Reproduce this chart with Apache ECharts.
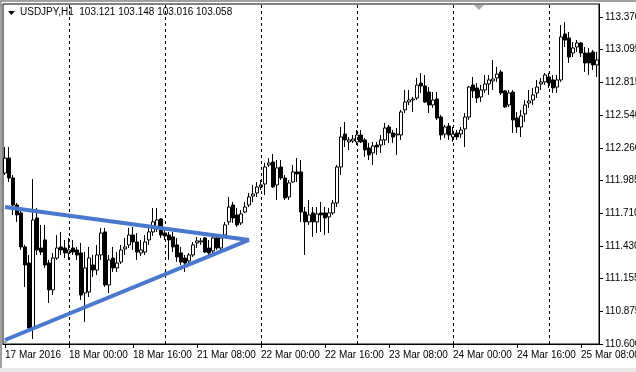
<!DOCTYPE html>
<html><head><meta charset="utf-8">
<script src="https://cdn.jsdelivr.net/npm/echarts@6/dist/echarts.min.js"></script>
<style>html,body{margin:0;padding:0;background:#fff}#c{width:636px;height:372px}</style>
</head><body><div id="c"></div>
<script>
const opens=[112.048,112.175,112.006,111.777,111.710,111.422,111.286,110.736,111.667,111.413,
111.481,111.286,111.058,111.328,111.422,111.413,111.371,111.413,111.396,111.371,
111.032,111.041,111.269,111.227,111.354,111.549,111.100,111.328,111.244,111.295,
111.405,111.439,111.523,111.464,111.371,111.379,111.481,111.549,111.591,111.659,
111.540,111.523,111.507,111.439,111.371,111.328,111.303,111.354,111.456,111.464,
111.498,111.413,111.388,111.498,111.413,111.523,111.634,111.777,111.693,111.625,
111.718,111.777,111.853,111.879,111.930,111.955,112.116,112.141,111.947,112.099,
112.006,111.845,111.972,112.057,112.057,111.718,111.634,111.710,111.634,111.710,
111.710,111.676,111.710,111.794,112.099,112.378,112.311,112.319,112.311,112.370,
112.328,112.260,112.218,112.285,112.285,112.328,112.438,112.387,112.370,112.370,
112.582,112.649,112.666,112.683,112.810,112.785,112.734,112.624,112.675,112.522,
112.378,112.446,112.353,112.387,112.378,112.421,112.522,112.793,112.768,112.692,
112.751,112.802,112.827,112.853,112.903,112.743,112.624,112.734,112.514,112.438,
112.548,112.641,112.666,112.726,112.802,112.819,112.861,112.836,112.776,112.836,
113.225,113.191,113.064,113.115,113.149,113.064,113.064,113.073,112.963];
const closes=[112.175,112.006,111.777,111.693,111.422,111.269,110.736,111.650,111.396,111.379,
111.269,111.058,111.328,111.413,111.396,111.371,111.396,111.379,111.354,111.015,
111.244,111.328,111.227,111.354,111.540,111.100,111.312,111.244,111.286,111.396,
111.422,111.523,111.464,111.379,111.396,111.464,111.549,111.634,111.650,111.523,
111.515,111.481,111.422,111.337,111.295,111.286,111.354,111.439,111.473,111.473,
111.379,111.371,111.498,111.413,111.498,111.608,111.760,111.667,111.608,111.701,
111.760,111.845,111.870,111.930,111.947,112.099,112.133,111.930,112.091,112.006,
111.837,111.964,112.057,112.040,111.718,111.634,111.693,111.634,111.701,111.693,
111.667,111.710,111.794,112.099,112.353,112.328,112.328,112.336,112.370,112.311,
112.243,112.201,112.277,112.268,112.328,112.429,112.387,112.353,112.378,112.565,
112.649,112.666,112.675,112.793,112.785,112.649,112.624,112.666,112.514,112.370,
112.438,112.370,112.378,112.353,112.412,112.522,112.776,112.743,112.683,112.751,
112.802,112.836,112.844,112.886,112.726,112.607,112.726,112.497,112.438,112.531,
112.624,112.658,112.709,112.776,112.819,112.878,112.810,112.768,112.836,113.200,
113.174,113.030,113.107,113.149,113.064,112.980,112.980,112.963,113.005];
const lows=[112.031,111.972,111.693,111.634,111.396,111.083,110.719,110.643,111.354,111.354,
111.244,110.947,111.015,111.312,111.354,111.328,111.312,111.354,111.312,110.973,
110.787,110.998,111.168,111.185,111.312,111.083,111.032,111.210,111.210,111.278,
111.354,111.413,111.396,111.312,111.345,111.354,111.439,111.515,111.549,111.498,
111.481,111.312,111.379,111.295,111.269,111.210,111.286,111.337,111.413,111.439,
111.371,111.354,111.371,111.396,111.396,111.507,111.608,111.625,111.591,111.608,
111.710,111.760,111.803,111.845,111.904,111.862,112.099,111.921,111.820,111.989,
111.820,111.820,111.964,111.972,111.634,111.354,111.608,111.507,111.540,111.549,
111.523,111.540,111.693,111.760,112.031,112.268,112.243,112.302,112.285,112.302,
112.184,112.158,112.116,112.201,112.218,112.285,112.302,112.302,112.201,112.328,
112.556,112.624,112.565,112.666,112.726,112.641,112.556,112.599,112.497,112.328,
112.345,112.328,112.311,112.328,112.345,112.268,112.497,112.683,112.641,112.649,
112.726,112.709,112.751,112.819,112.709,112.599,112.607,112.387,112.387,112.353,
112.480,112.599,112.624,112.683,112.751,112.793,112.768,112.726,112.726,112.819,
113.115,112.980,113.030,113.073,113.030,112.903,112.878,112.920,112.861];
const highs=[112.268,112.268,112.031,111.794,111.735,111.439,111.354,111.997,111.752,111.608,
111.608,111.312,111.371,111.523,111.549,111.481,111.498,111.481,111.422,111.456,
111.379,111.422,111.354,111.439,111.583,111.583,111.354,111.422,111.379,111.439,
111.498,111.583,111.591,111.540,111.481,111.523,111.608,111.752,111.752,111.667,
111.583,111.549,111.549,111.498,111.422,111.354,111.371,111.464,111.507,111.498,
111.507,111.481,111.523,111.523,111.507,111.634,111.845,111.803,111.752,111.735,
111.803,111.879,111.947,111.972,111.989,112.133,112.175,112.209,112.158,112.158,
112.031,111.989,112.116,112.175,112.158,111.760,111.820,111.760,111.760,111.803,
111.760,111.752,111.820,112.116,112.438,112.480,112.353,112.370,112.412,112.412,
112.345,112.302,112.311,112.311,112.370,112.472,112.455,112.412,112.429,112.582,
112.751,112.751,112.692,112.853,112.895,112.878,112.776,112.734,112.734,112.539,
112.455,112.472,112.438,112.412,112.438,112.556,112.785,112.861,112.810,112.793,
112.878,112.878,113.005,112.946,112.920,112.751,112.751,112.751,112.565,112.582,
112.666,112.751,112.768,112.836,112.853,112.895,112.895,112.878,112.878,113.301,
113.327,113.242,113.157,113.174,113.157,113.115,113.107,113.090,113.073];

const yTickValues=[110.600,110.875,111.155,111.430,111.710,111.985,112.260,112.540,112.815,113.095,113.370];
const xTickLabels=['17 Mar 2016','18 Mar 00:00','18 Mar 16:00','21 Mar 08:00','22 Mar 00:00','22 Mar 16:00','23 Mar 08:00','24 Mar 00:00','24 Mar 16:00','25 Mar 08:00'];
const dayNames=['17 Mar','18 Mar','21 Mar','22 Mar','23 Mar','24 Mar','25 Mar'];
const daySeparators=['18 Mar 00:00','21 Mar 00:00','22 Mar 00:00','23 Mar 00:00','24 Mar 00:00','25 Mar 00:00'];
const trendUpper=[[0,111.760],[61,111.481]];
const trendLower=[[0,110.634],[61,111.481]];
const headerText='USDJPY,H1  103.121 103.148 103.016 103.058';

const categories=[];
dayNames.forEach((d,k)=>{for(let h=(k===0?8:0);h<24;h++){categories.push(d+' '+String(h).padStart(2,'0')+':00');}});
categories.length=opens.length;
const ohlc=opens.map((o,i)=>[o,closes[i],lows[i],highs[i]]);

const FONT="'Liberation Sans', Arial, sans-serif";
const chart=echarts.init(document.getElementById('c'),null,{renderer:'canvas'});
chart.setOption({
  animation:false,
  backgroundColor:'#ffffff',
  textStyle:{fontFamily:FONT},
  grid:{left:3,right:37,top:4,bottom:28,containLabel:false,outerBoundsMode:'none',show:true,borderColor:'#000',borderWidth:1,backgroundColor:'transparent'},
  xAxis:{type:'category',data:categories,boundaryGap:true,
    axisLine:{show:true,lineStyle:{color:'#000',width:1}},
    axisTick:{show:true,alignWithLabel:true,length:4,interval:(i)=>i%16===0,lineStyle:{color:'#000'}},
    axisLabel:{show:true,interval:(i)=>i%16===0,formatter:(v,i)=>i%16===0?xTickLabels[i/16]:'',align:'left',color:'#000',fontSize:10,fontFamily:FONT,margin:6,hideOverlap:false},
    splitLine:{show:false}},
  yAxis:{type:'value',position:'right',min:110.6,max:113.479,
    axisLine:{show:true,lineStyle:{color:'#000',width:1}},
    axisTick:{show:true,length:4,customValues:yTickValues,lineStyle:{color:'#000'}},
    axisLabel:{show:true,customValues:yTickValues,formatter:(v)=>v.toFixed(3),color:'#000',fontSize:10,fontFamily:FONT,margin:6},
    splitLine:{show:false}},
  series:[
    {type:'candlestick',data:ohlc,barWidth:3,silent:true,
     itemStyle:{color:'#ffffff',color0:'#000000',borderColor:'#000000',borderColor0:'#000000',borderWidth:1},
     markLine:{silent:true,symbol:['none','none'],label:{show:false},
       lineStyle:{color:'#000',width:1,type:[3,3]},
       data:daySeparators.map(c=>({xAxis:c}))}},
    {type:'line',data:trendUpper,symbol:'none',silent:true,z:5,lineStyle:{color:'#4a78cc',width:4}},
    {type:'line',data:trendLower,symbol:'none',silent:true,z:5,lineStyle:{color:'#4a78cc',width:4}}
  ],
  graphic:[
    {type:'rect',shape:{x:0,y:0,width:636,height:2},style:{fill:'#a0a0a0'},silent:true},
    {type:'rect',shape:{x:0,y:0,width:2,height:372},style:{fill:'#a0a0a0'},silent:true},
    {type:'rect',shape:{x:0,y:368,width:636,height:4},style:{fill:'#e8e8e8'},silent:true},
    {type:'polygon',shape:{points:[[474,5],[484,5],[479,10]]},style:{fill:'#a8a8a8'},silent:true},
    {type:'polygon',shape:{points:[[4,340],[4,344],[9,344]]},style:{fill:'#a8a8a8'},silent:true},
    {type:'polygon',shape:{points:[[8,11],[15,11],[11.5,15]]},style:{fill:'#000'},silent:true},
    {type:'text',left:20,top:7,style:{text:headerText,fill:'#000',font:'10px '+FONT},silent:true}
  ]
});
</script></body></html>
